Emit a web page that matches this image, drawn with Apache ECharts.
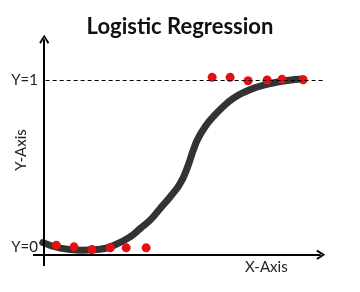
<!DOCTYPE html>
<html>
<head>
<meta charset="utf-8">
<script src="https://cdn.jsdelivr.net/npm/echarts@6/dist/echarts.min.js"></script>
<style>html,body{margin:0;padding:0;background:#fff}#c{width:360px;height:292px}</style>
</head>
<body>
<div id="c"></div>
<script>
// Data
const curveX = [-0.05, 0.57, 1.28, 1.99, 2.53, 3.06, 3.42, 3.77, 4.13, 4.49, 4.84, 5.09, 5.31, 5.48, 5.73, 6.02, 6.37, 6.73, 7.16, 7.59, 8.05, 8.65, 9.22];
const curveY = [0.025, -0.008, -0.020, -0.014, 0.013, 0.060, 0.110, 0.160, 0.230, 0.300, 0.380, 0.472, 0.580, 0.650, 0.720, 0.780, 0.840, 0.890, 0.930, 0.958, 0.979, 0.997, 1.006];
const pointsX = [0.43, 1.06, 1.70, 2.35, 2.92, 3.63, 5.98, 6.62, 7.26, 7.94, 8.47, 9.22];
const pointsY = [0.010, 0.0, -0.016, -0.006, -0.006, -0.006, 1.016, 1.016, 0.996, 1.0, 1.004, 1.002];
const yTickValues = [0, 1];
const yTickLabels = ['Y=0', 'Y=1'];
const titleText = 'Logistic Regression';
const xName = 'X-Axis';
const yName = 'Y-Axis';

const chart = echarts.init(document.getElementById('c'), null, {renderer: 'canvas'});
const arrow = 'path://M5,0 L10,8 L8.4,9.2 L5,3.2 L1.6,9.2 L0,8 Z';
const font = 'Lato, "Open Sans", sans-serif';

chart.setOption({
  animation: false,
  backgroundColor: '#fff',
  title: {
    text: titleText, left: 'center', top: 11,
    textStyle: {fontFamily: font, fontWeight: 'bold', fontSize: 22, color: '#111'}
  },
  grid: {left: 33, right: 35, top: 35, bottom: 26},
  xAxis: {
    type: 'value', min: -0.4, max: 10,
    axisLine: {show: false}, axisTick: {show: false}, axisLabel: {show: false}, splitLine: {show: false}
  },
  yAxis: {
    type: 'value', min: -0.115, max: 1.27,
    axisLine: {show: false}, axisTick: {show: false}, splitLine: {show: false},
    axisLabel: {
      customValues: yTickValues, margin: -5,
      formatter: v => yTickLabels[yTickValues.indexOf(v)] || '',
      fontFamily: font, fontSize: 15, color: '#222'
    }
  },
  graphic: [
    {type: 'text', left: 245, top: 260, style: {text: xName, font: '15px ' + font, fill: '#222'}},
    {type: 'text', x: 21, y: 150, rotation: Math.PI / 2,
     style: {text: yName, font: '15px ' + font, fill: '#222', align: 'center', verticalAlign: 'middle'}}
  ],
  series: [
    {
      type: 'line', smooth: 0.5, symbol: 'none', z: 2,
      data: curveX.map((x, i) => [x, curveY[i]]),
      lineStyle: {color: '#333', width: 7, cap: 'round', join: 'round'}
    },
    {
      type: 'scatter', z: 3, symbolSize: 9,
      itemStyle: {color: '#e60f14', opacity: 1},
      data: pointsX.map((x, i) => [x, pointsY[i]]),
      markLine: {
        silent: true, animation: false, label: {show: false},
        data: [
          [{coord: [-0.4, -0.048], symbol: 'none', lineStyle: {color: '#000', width: 2, type: 'solid'}},
           {coord: [9.85, -0.048], symbol: arrow, symbolSize: [10, 9]}],
          [{coord: [0, -0.115], symbol: 'none', lineStyle: {color: '#000', width: 2, type: 'solid'}},
           {coord: [0, 1.245], symbol: arrow, symbolSize: [10, 9]}],
          [{coord: [0.05, 1], symbol: 'none', lineStyle: {color: '#000', width: 1, type: [4, 3]}},
           {coord: [10, 1], symbol: 'none'}]
        ]
      }
    }
  ]
});
</script>
</body>
</html>
